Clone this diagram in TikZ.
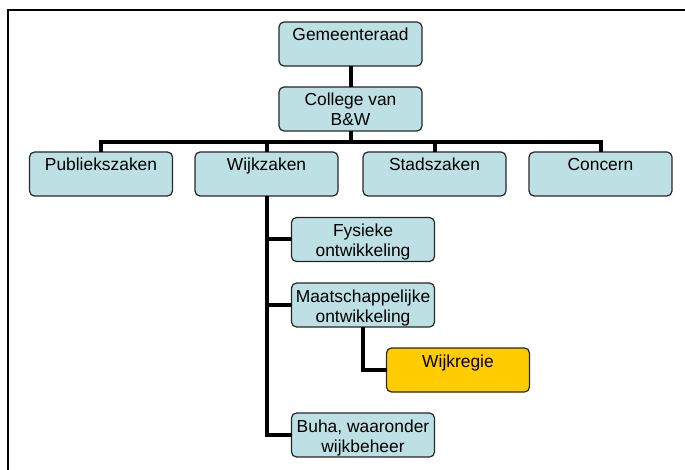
\documentclass[tikz,border=0pt]{standalone}
\usepackage{fontspec}
\setmainfont{Liberation Sans}
\usetikzlibrary{calc}
\definecolor{boxblue}{RGB}{189,224,228}
\definecolor{boxgold}{RGB}{255,204,0}
\newcommand{\orgtxt}[1]{\parbox[c][44pt][t]{143pt}{\fontsize{17.4}{20}\selectfont\centering\rule{0pt}{19pt}#1\par}}

\begin{document}
\begin{tikzpicture}[x=1pt,y=-1pt,
org/.style={draw=black!85,line width=1.2pt,fill=boxblue,rounded corners=5pt,inner sep=0pt,outer sep=0pt},
orghl/.style={org,fill=boxgold},
tree/.style={line width=4pt,black,line join=miter}]
\useasboundingbox (0,0) rectangle (685,470);
\draw[line width=1.3pt] (8,470) -- (8,10) -- (685,10);
% top
\node[org] (raad) at (350.5,44) {\orgtxt{Gemeenteraad}};
\node[org] (coll) at (350.5,109) {\orgtxt{College van\\B\&W}};
\coordinate (bus) at (350.5,142);
% directies
\node[org] (pub) at (101,174) {\orgtxt{Publiekszaken}};
\node[org] (wijk) at (266.5,174) {\orgtxt{Wijkzaken}};
\node[org] (stad) at (434.5,174) {\orgtxt{Stadszaken}};
\node[org] (conc) at (600.5,174) {\orgtxt{Concern}};
% afdelingen wijkzaken
\node[org] (fys) at (363,239.5) {\orgtxt{Fysieke\\ontwikkeling}};
\node[org] (maat) at (363,305) {\orgtxt{Maatschappelijke\\ontwikkeling}};
\node[orghl] (regie) at (458,370) {\orgtxt{Wijkregie}};
\node[org] (buha) at (363,435) {\orgtxt{Buha, waaronder\\wijkbeheer}};
% lijnen
\draw[tree] (raad.south) -- (coll.north);
\draw[tree] (coll.south) -- (bus);
\draw[tree] (pub.north) |- (bus) -| (conc.north);
\foreach \n in {wijk,stad}{
\draw[tree] (\n.north) -- (\n.north |- bus);
}
\draw[tree] (wijk.south) |- (buha.west);
\draw[tree] (wijk.south |- fys.west) -- (fys.west);
\draw[tree] (wijk.south |- maat.west) -- (maat.west);
\draw[tree] (maat.south) |- (regie.west);
\end{tikzpicture}
\end{document}
